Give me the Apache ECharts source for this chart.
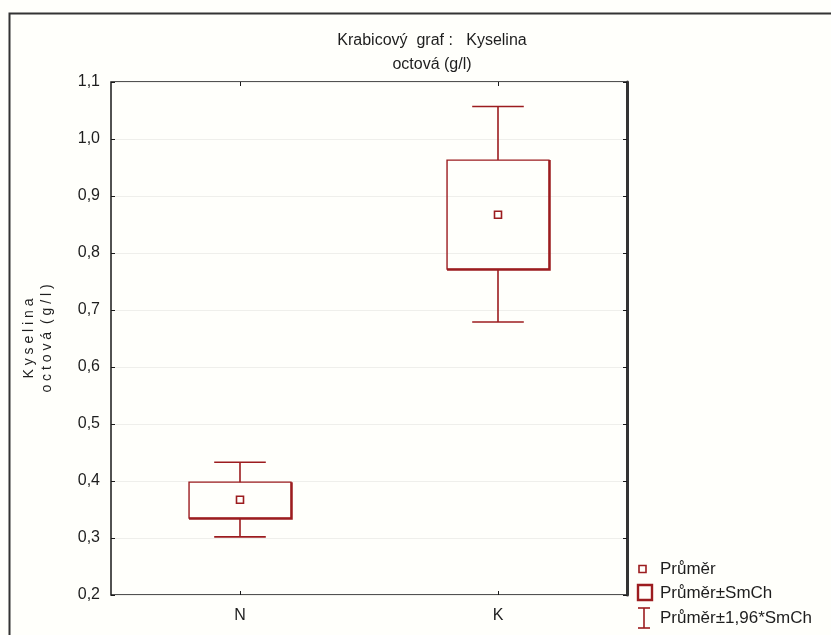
<!DOCTYPE html>
<html><head><meta charset="utf-8">
<script src="https://cdn.jsdelivr.net/npm/echarts@6/dist/echarts.min.js"></script>
<style>html,body{margin:0;padding:0;background:#fffffb}#c{width:831px;height:635px}</style>
</head><body><div id="c"></div>
<script>
const categories = ['N', 'K'];
const means = [0.367, 0.867];
const seLow = [0.335, 0.772];
const seHigh = [0.398, 0.963];
const ciLow = [0.302, 0.679];
const ciHigh = [0.433, 1.057];
const yTicks = [0.2, 1.1, 0.1];
const seriesNames = ['Průměr', 'Průměr±SmCh', 'Průměr±1,96*SmCh'];

const RED = '#9c1c1f';
const FONT = '"Liberation Sans", Arial, sans-serif';
const TXT = '#1e1e1e';

const chart = echarts.init(document.getElementById('c'));

function boxRender(params, api) {
  const c = api.value(0);
  const lo = api.coord([c, api.value(1)]);
  const hi = api.coord([c, api.value(2)]);
  const bw = api.size([1, 0])[0] * 0.395;
  const x0 = lo[0] - bw / 2, x1 = lo[0] + bw / 2;
  return {
    type: 'group',
    children: [
      { type: 'rect', shape: { x: x0, y: hi[1], width: bw, height: lo[1] - hi[1] },
        style: { fill: null, stroke: RED, lineWidth: 1.4 } },
      { type: 'polyline', shape: { points: [[x0, lo[1] + 0.8], [x1 + 0.8, lo[1] + 0.8], [x1 + 0.8, hi[1]]] },
        style: { fill: null, stroke: RED, lineWidth: 2 } }
    ]
  };
}
function whiskerRender(params, api) {
  const c = api.value(0);
  const lo = api.coord([c, api.value(1)]);
  const hi = api.coord([c, api.value(2)]);
  const bLo = api.coord([c, api.value(3)]);
  const bHi = api.coord([c, api.value(4)]);
  const cw = api.size([1, 0])[0] * 0.2;
  const x = lo[0];
  const st = { stroke: RED, lineWidth: 1.6 };
  return {
    type: 'group',
    children: [
      { type: 'line', shape: { x1: x, y1: hi[1], x2: x, y2: bHi[1] }, style: st },
      { type: 'line', shape: { x1: x, y1: bLo[1], x2: x, y2: lo[1] }, style: st },
      { type: 'line', shape: { x1: x - cw / 2, y1: hi[1], x2: x + cw / 2, y2: hi[1] }, style: st },
      { type: 'line', shape: { x1: x - cw / 2, y1: lo[1], x2: x + cw / 2, y2: lo[1] }, style: st }
    ]
  };
}
function meanRender(params, api) {
  const p = api.coord([api.value(0), api.value(1)]);
  return { type: 'rect', shape: { x: p[0] - 3.5, y: p[1] - 3.5, width: 7, height: 7 },
    style: { fill: null, stroke: RED, lineWidth: 1.6 } };
}

const legTxt = { fontFamily: FONT, fontSize: 17, fill: TXT, textVerticalAlign: 'middle' };
const option = {
  backgroundColor: '#fffffb',
  animation: false,
  title: {
    text: 'Krabicový  graf :   Kyselina\noctová (g/l)',
    left: 427, top: 24, textAlign: 'center',
    textStyle: { fontFamily: FONT, fontSize: 16, fontWeight: 'normal', color: TXT, lineHeight: 24 }
  },
  grid: { left: 111, top: 82, right: 204, bottom: 40, show: true, borderColor: '#1a1a1a', borderWidth: 1.5 },
  xAxis: [{
    type: 'category', data: categories, position: 'bottom',
    axisLine: { show: false },
    axisTick: { show: true, inside: true, alignWithLabel: true, length: 4, lineStyle: { color: '#1a1a1a' } },
    axisLabel: { fontFamily: FONT, fontSize: 16, color: TXT, margin: 13 },
    splitLine: { show: false }
  }, {
    type: 'category', data: categories, position: 'top',
    axisLine: { show: false },
    axisTick: { show: true, inside: true, alignWithLabel: true, length: 4, lineStyle: { color: '#1a1a1a' } },
    axisLabel: { show: false }, splitLine: { show: false }
  }],
  yAxis: [{
    type: 'value', min: yTicks[0], max: yTicks[1], interval: yTicks[2],
    name: 'K y s e l i n a\no c t o v á  ( g / l )',
    nameLocation: 'middle', nameGap: 55, nameRotate: 90,
    nameTextStyle: { fontFamily: FONT, fontSize: 14, color: TXT, lineHeight: 18 },
    axisLine: { show: false },
    axisTick: { show: true, inside: true, length: 4, lineStyle: { color: '#1a1a1a' } },
    axisLabel: { fontFamily: FONT, fontSize: 16, color: TXT, margin: 11,
      formatter: v => v.toFixed(1).replace('.', ',') },
    splitLine: { show: true, lineStyle: { color: '#efefeb', width: 1 } }
  }, {
    type: 'value', min: yTicks[0], max: yTicks[1], interval: yTicks[2], position: 'right',
    axisLine: { show: true, lineStyle: { color: '#333', width: 3 } },
    axisTick: { show: true, inside: true, length: 4, lineStyle: { color: '#1a1a1a' } },
    axisLabel: { show: false }, splitLine: { show: false }
  }],
  graphic: [
    { type: 'rect', left: 7, top: 11, shape: { width: 900, height: 700 },
      style: { fill: null, stroke: '#333', lineWidth: 2 }, silent: true },
    { type: 'rect', shape: { x: 639, y: 565.5, width: 7, height: 7 }, style: { fill: null, stroke: RED, lineWidth: 1.6 } },
    { type: 'text', x: 660, y: 569, style: Object.assign({ text: seriesNames[0] }, legTxt) },
    { type: 'rect', shape: { x: 638, y: 585, width: 14, height: 15 }, style: { fill: null, stroke: RED, lineWidth: 2.4 } },
    { type: 'text', x: 660, y: 593, style: Object.assign({ text: seriesNames[1] }, legTxt) },
    { type: 'polyline', shape: { points: [[638, 608], [650, 608]] }, style: { stroke: RED, lineWidth: 1.6 } },
    { type: 'polyline', shape: { points: [[644, 608], [644, 628]] }, style: { stroke: RED, lineWidth: 1.6 } },
    { type: 'polyline', shape: { points: [[638, 628], [650, 628]] }, style: { stroke: RED, lineWidth: 1.6 } },
    { type: 'text', x: 660, y: 618, style: Object.assign({ text: seriesNames[2] }, legTxt) }
  ],
  series: [
    { name: seriesNames[2], type: 'custom', renderItem: whiskerRender,
      data: categories.map((c, i) => [i, ciLow[i], ciHigh[i], seLow[i], seHigh[i]]), z: 2 },
    { name: seriesNames[1], type: 'custom', renderItem: boxRender,
      data: categories.map((c, i) => [i, seLow[i], seHigh[i]]), z: 3 },
    { name: seriesNames[0], type: 'custom', renderItem: meanRender,
      data: categories.map((c, i) => [i, means[i]]), z: 4 }
  ]
};
chart.setOption(option);
</script></body></html>
